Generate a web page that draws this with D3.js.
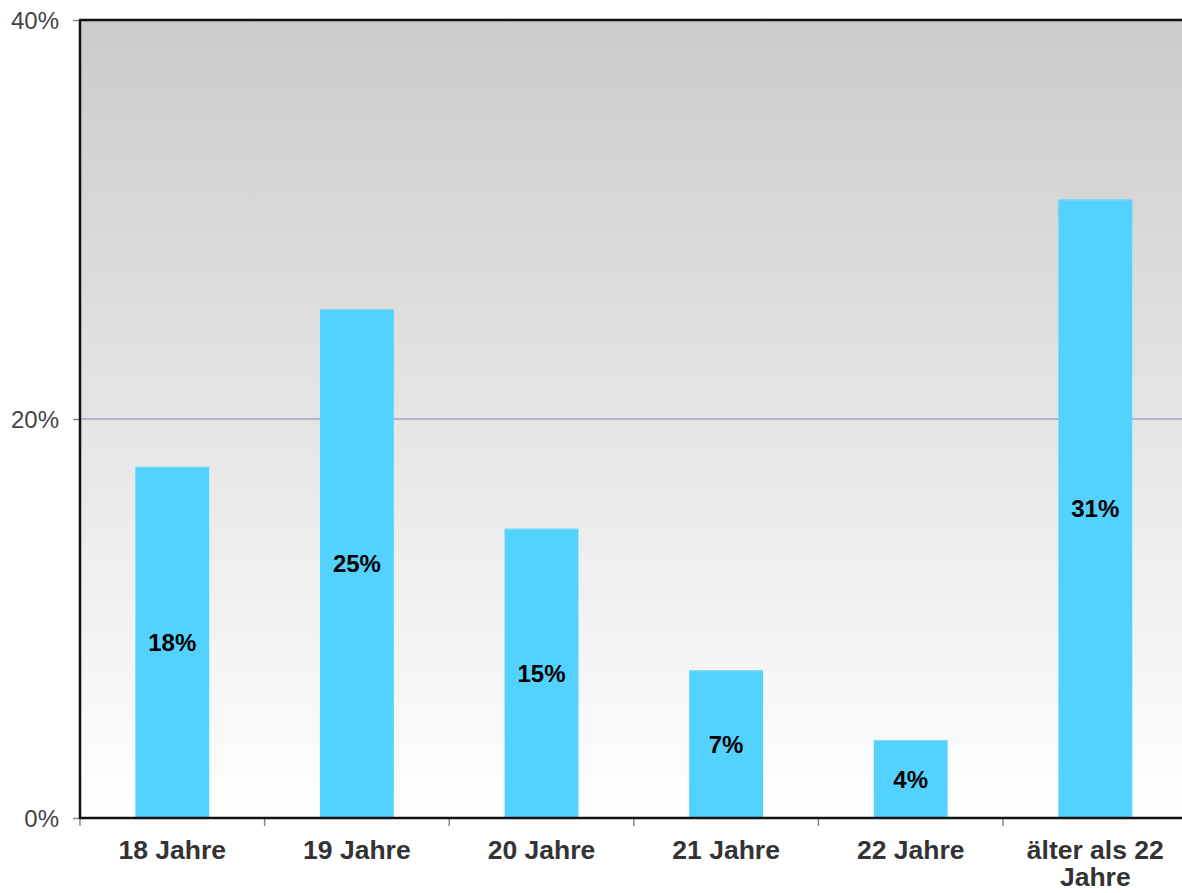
<!DOCTYPE html>
<html><head><meta charset="utf-8">
<script src="https://cdn.jsdelivr.net/npm/d3@7"></script>
<style>body{margin:0;background:#fff}svg{display:block}</style>
</head><body>
<svg id="c" width="1182" height="893"></svg>
<script>
const categories = ["18 Jahre","19 Jahre","20 Jahre","21 Jahre","22 Jahre","älter als 22 Jahre"];
const values = [17.6, 25.5, 14.5, 7.4, 3.9, 31.0];
const valueLabels = ["18%","25%","15%","7%","4%","31%"];
const yTicks = [0, 20, 40];

(function(){
const svg = d3.select("#c");
const mLeft = 80, mTop = 20, mBottom = 818, mRight = 1187.6;
const x = d3.scaleBand().domain(categories).range([mLeft, mRight]).paddingInner(0.6).paddingOuter(0.3);
const y = d3.scaleLinear().domain([0, 40]).range([mBottom, mTop]);

const defs = svg.append("defs");
const g = defs.append("linearGradient").attr("id","bg").attr("x1",0).attr("y1",0).attr("x2",0).attr("y2",1);
g.append("stop").attr("offset","0%").attr("stop-color","#cbcbcb");
g.append("stop").attr("offset","100%").attr("stop-color","#ffffff");

svg.append("rect").attr("x",mLeft).attr("y",mTop).attr("width",1182-mLeft).attr("height",mBottom-mTop).attr("fill","url(#bg)");

// gridline
svg.append("g").selectAll("line").data(yTicks.filter(d=>d>0 && d<40)).join("line")
  .attr("x1",mLeft).attr("x2",1182).attr("y1",d=>y(d)).attr("y2",d=>y(d))
  .attr("stroke","#8080b8").attr("stroke-width",1.2);

// bars
svg.append("g").selectAll("rect").data(values).join("rect")
  .attr("x",(d,i)=>x(categories[i])).attr("width",x.bandwidth())
  .attr("y",d=>y(d)).attr("height",d=>mBottom-y(d)).attr("fill","#53d2ff");
svg.append("g").selectAll("line").data(values).join("line")
  .attr("x1",(d,i)=>x(categories[i])).attr("x2",(d,i)=>x(categories[i])+x.bandwidth())
  .attr("y1",d=>y(d)+0.5).attr("y2",d=>y(d)+0.5).attr("stroke","#7fd8f5").attr("stroke-width",1);

// value labels
svg.append("g").selectAll("text").data(values).join("text")
  .attr("x",(d,i)=>x(categories[i])+x.bandwidth()/2)
  .attr("y",d=>(y(d)+mBottom)/2).attr("dy","0.36em")
  .attr("text-anchor","middle").attr("font-family","Liberation Sans, Arial, sans-serif")
  .attr("font-weight","bold").attr("font-size",24).attr("fill","#000")
  .text((d,i)=>valueLabels[i]);

// y axis
const ya = svg.append("g").attr("transform",`translate(${mLeft},0)`)
  .call(d3.axisLeft(y).tickValues(yTicks).tickFormat(d=>d+"%").tickSize(7).tickPadding(14));
ya.select(".domain").remove();
ya.selectAll(".tick line").attr("stroke","#888").attr("stroke-width",1.5);
ya.selectAll(".tick text").attr("font-family","Liberation Sans, Arial, sans-serif").attr("font-size",24).attr("fill","#444").attr("dy","0.36em");

// x axis ticks at band boundaries
const step = x.step();
const bounds = categories.slice(1).map(c => x(c) - step*x.paddingInner()/2);
svg.append("g").selectAll("line").data(bounds).join("line")
  .attr("x1",d=>d).attr("x2",d=>d).attr("y1",mBottom).attr("y2",mBottom+8)
  .attr("stroke","#888").attr("stroke-width",1.5);
svg.append("line").attr("x1",mLeft).attr("x2",mLeft).attr("y1",mBottom).attr("y2",mBottom+8).attr("stroke","#888").attr("stroke-width",1.5);

// frame lines
svg.append("line").attr("x1",mLeft-1).attr("x2",1182).attr("y1",mTop).attr("y2",mTop).attr("stroke","#111").attr("stroke-width",2.5);
svg.append("line").attr("x1",mLeft).attr("x2",mLeft).attr("y1",mTop).attr("y2",mBottom+1).attr("stroke","#111").attr("stroke-width",2.5);
svg.append("line").attr("x1",mLeft).attr("x2",1182).attr("y1",mBottom).attr("y2",mBottom).attr("stroke","#111").attr("stroke-width",2.5);

// category labels
const lab = svg.append("g").selectAll("text").data(categories).join("text")
  .attr("x",d=>x(d)+x.bandwidth()/2).attr("y",859)
  .attr("text-anchor","middle").attr("font-family","Liberation Sans, Arial, sans-serif")
  .attr("font-weight","bold").attr("font-size",26.5).attr("fill","#333");
lab.each(function(d){
  const t = d3.select(this);
  if (d === "älter als 22 Jahre") {
    t.append("tspan").attr("x",x(d)+x.bandwidth()/2).text("älter als 22");
    t.append("tspan").attr("x",x(d)+x.bandwidth()/2).attr("dy",27).text("Jahre");
  } else t.text(d);
});
})();
</script>
</body></html>
